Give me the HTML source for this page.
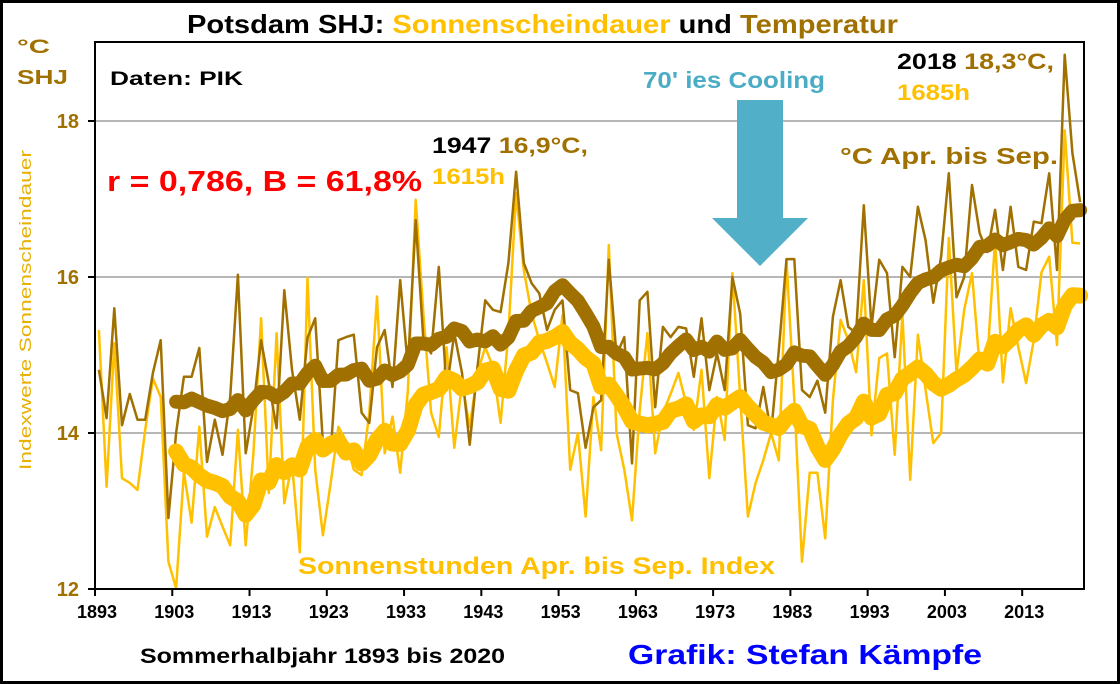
<!DOCTYPE html>
<html><head><meta charset="utf-8"><style>
html,body{margin:0;padding:0;background:#fff;}
svg{display:block;font-family:"Liberation Sans",Arial,sans-serif;font-weight:bold;}
</style></head><body>
<svg id="chart" width="1120" height="684" viewBox="0 0 1120 684">
<rect x="1.5" y="1.5" width="1117" height="681" fill="#fff" stroke="#000" stroke-width="3"/>
<text x="187" y="33" font-size="26" textLength="711" lengthAdjust="spacingAndGlyphs"><tspan fill="#000">Potsdam SHJ: </tspan><tspan fill="#FFC000">Sonnenscheindauer</tspan><tspan fill="#000"> und </tspan><tspan fill="#A07000">Temperatur</tspan></text>
<text x="17" y="53" font-size="19" fill="#A07000" textLength="33" lengthAdjust="spacingAndGlyphs">°C</text>
<text x="17" y="84" font-size="20" fill="#A07000" textLength="51" lengthAdjust="spacingAndGlyphs">SHJ</text>
<text transform="translate(31,310) rotate(-90)" font-size="17" font-weight="normal" fill="#E8B000" text-anchor="middle" textLength="320" lengthAdjust="spacingAndGlyphs">Indexwerte Sonnenscheindauer</text>
<g id="grid"></g>
<g id="yticks"></g>
<g id="xticks"></g>
<g id="series"></g>
<rect x="95" y="42" width="989" height="547" fill="none" stroke="#000" stroke-width="2"/>
<text x="110" y="85" font-size="19" fill="#000" textLength="133" lengthAdjust="spacingAndGlyphs">Daten: PIK</text>
<text x="107" y="191" font-size="29" fill="#FF0000" textLength="315" lengthAdjust="spacingAndGlyphs">r = 0,786, B = 61,8%</text>
<text x="432" y="153" font-size="22" textLength="156" lengthAdjust="spacingAndGlyphs"><tspan fill="#000">1947 </tspan><tspan fill="#A07000">16,9°C,</tspan></text>
<text x="432" y="184" font-size="22" fill="#FFC000" textLength="73" lengthAdjust="spacingAndGlyphs">1615h</text>
<text x="643" y="88" font-size="23" fill="#4BACC6" textLength="182" lengthAdjust="spacingAndGlyphs">70' ies Cooling</text>
<polygon points="737,100 783,100 783,218 808,218 760,266 712,218 737,218" fill="#52AFC8"/>
<text x="897" y="69" font-size="22" textLength="157" lengthAdjust="spacingAndGlyphs"><tspan fill="#000">2018 </tspan><tspan fill="#A07000">18,3°C,</tspan></text>
<text x="897" y="100" font-size="22" fill="#FFC000" textLength="73" lengthAdjust="spacingAndGlyphs">1685h</text>
<text x="840" y="164" font-size="23" fill="#A07000" textLength="218" lengthAdjust="spacingAndGlyphs">°C  Apr. bis Sep.</text>
<text x="298" y="574" font-size="24" fill="#FFC000" textLength="477" lengthAdjust="spacingAndGlyphs">Sonnenstunden Apr. bis Sep. Index</text>
<text x="140" y="663" font-size="21" fill="#000" textLength="365" lengthAdjust="spacingAndGlyphs">Sommerhalbjahr 1893 bis 2020</text>
<text x="628" y="664" font-size="28" fill="#0000FF" textLength="354" lengthAdjust="spacingAndGlyphs">Grafik: Stefan Kämpfe</text>
</svg>
<script>
const startYear = 1893;
const temperature = [
14.81,14.19,15.6,14.1,14.5,14.17,14.17,14.77,15.19,12.91,
14.0,14.72,14.72,15.09,13.63,14.17,13.72,14.46,16.03,13.74,
14.33,15.19,14.64,14.06,15.83,14.81,14.17,15.22,15.47,13.87,
13.76,15.19,15.23,15.26,14.26,14.13,15.1,15.32,14.59,15.96,
14.85,16.73,15.19,15.02,16.13,14.55,15.28,14.77,13.85,14.85,
15.7,15.58,15.55,16.18,17.35,16.18,15.92,15.79,15.32,15.58,
15.7,14.55,14.51,13.81,14.33,14.42,16.22,15.0,15.23,13.61,
15.7,15.81,14.33,15.36,15.23,15.36,15.34,14.72,15.47,14.55,
15.02,14.55,16.0,15.53,14.1,14.06,14.59,14.0,15.06,16.23,
16.23,14.55,14.46,14.67,14.26,15.49,15.96,15.36,15.28,16.92,
15.36,16.22,16.05,14.97,16.13,16.0,16.9,16.47,15.67,16.26,
17.33,15.74,16.0,17.18,16.56,16.32,16.86,16.09,16.9,16.13,
16.09,16.71,16.69,17.33,16.09,18.85,17.59,16.96];
const sunshine = [
15.32,13.31,15.15,13.42,13.36,13.27,14.04,14.7,14.46,12.35,
12.01,13.5,12.85,14.08,12.67,13.05,12.8,12.56,14.04,12.56,
13.74,15.47,13.23,15.28,13.1,13.61,12.47,15.99,13.53,12.69,
13.36,14.08,13.9,13.53,13.46,14.26,15.75,13.74,14.21,13.49,
14.55,16.99,15.53,14.26,13.95,15.1,13.81,14.64,14.08,14.77,
15.1,14.85,14.13,15.28,17.07,16.09,15.53,15.19,14.9,14.59,
15.51,13.53,14.0,12.93,14.46,13.78,16.41,14.0,13.53,12.88,
14.29,15.28,13.74,14.26,14.5,14.77,14.38,14.04,14.81,13.42,
14.46,13.91,16.05,14.46,12.93,13.36,13.65,14.0,13.65,16.22,
14.42,12.35,13.49,13.49,12.65,14.42,15.45,15.19,14.78,15.96,
13.97,14.96,15.02,13.72,15.53,13.4,15.26,14.55,13.87,14.0,
16.5,14.77,15.58,16.05,14.85,14.96,16.47,14.65,15.6,15.1,
14.64,15.19,16.06,16.26,15.13,17.88,16.44,16.43];
const yTicks = [12,14,16,18];
const xTickLabels = [1893,1903,1913,1923,1933,1943,1953,1963,1973,1983,1993,2003,2013];
const maWindow = 11;

const NS = "http://www.w3.org/2000/svg";
const plotL = 95, plotR = 1084, plotB = 589;
const yMin = 12, pxPerUnit = 78;
const n = temperature.length;
const step = (plotR - plotL) / n;
function xScale(i){ return plotL + (i + 0.5) * step; }
function xBoundary(i){ return plotL + i * step; }
function yScale(v){ return plotB - (v - yMin) * pxPerUnit; }
function mk(tag, attrs, parent){
  const e = document.createElementNS(NS, tag);
  for (const k in attrs) e.setAttribute(k, attrs[k]);
  parent.appendChild(e);
  return e;
}
const grid = document.getElementById('grid');
const yt = document.getElementById('yticks');
const xt = document.getElementById('xticks');
const ser = document.getElementById('series');

yTicks.forEach(v => {
  const y = yScale(v);
  if (v > yMin) {
    const g = mk('line', {x1: plotL, x2: plotR, y1: y, y2: y, stroke: '#8a8a8a', 'stroke-width': 1.2}, grid);
    
    
  }
  const t = mk('line', {x1: plotL - 7, x2: plotL, y1: y, y2: y, stroke: '#000', 'stroke-width': 2}, yt);
  
  
  const l = mk('text', {x: 79, y: y + 7, 'font-size': 20, fill: '#A07000', 'text-anchor': 'end'}, yt);
  l.textContent = v;
  
  
});

xTickLabels.forEach(yr => {
  const x = xBoundary(yr - startYear);
  const t = mk('line', {x1: x, x2: x, y1: plotB, y2: plotB + 7, stroke: '#000', 'stroke-width': 2}, xt);
  
  
  const l = mk('text', {x: x + 2, y: 618, 'font-size': 18, fill: '#000', 'text-anchor': 'middle'}, xt);
  l.textContent = yr;
  
  
});

function movingAvg(arr){
  const out = [];
  for (let i = maWindow - 1; i < arr.length; i++) {
    let s = 0;
    for (let j = i - maWindow + 1; j <= i; j++) s += arr[j];
    out.push([i, s / maWindow]);
  }
  return out;
}
function pathFrom(pairs){
  return pairs.map((p, k) => (k ? 'L' : 'M') + xScale(p[0]).toFixed(1) + ',' + yScale(p[1]).toFixed(1)).join(' ');
}
const sunLine = mk('path', {d: pathFrom(sunshine.map((v, i) => [i, v])), fill: 'none', stroke: '#FFC000', 'stroke-width': 2.5, 'stroke-linejoin': 'round'}, ser);


const tempLine = mk('path', {d: pathFrom(temperature.map((v, i) => [i, v])), fill: 'none', stroke: '#A07000', 'stroke-width': 2.5, 'stroke-linejoin': 'round'}, ser);


const sunMA = mk('path', {d: pathFrom(movingAvg(sunshine)), fill: 'none', stroke: '#FFC000', 'stroke-width': 16, 'stroke-linejoin': 'round', 'stroke-linecap': 'round'}, ser);


const tempMA = mk('path', {d: pathFrom(movingAvg(temperature)), fill: 'none', stroke: '#A07000', 'stroke-width': 14, 'stroke-linejoin': 'round', 'stroke-linecap': 'round'}, ser);


</script>
</body></html>
